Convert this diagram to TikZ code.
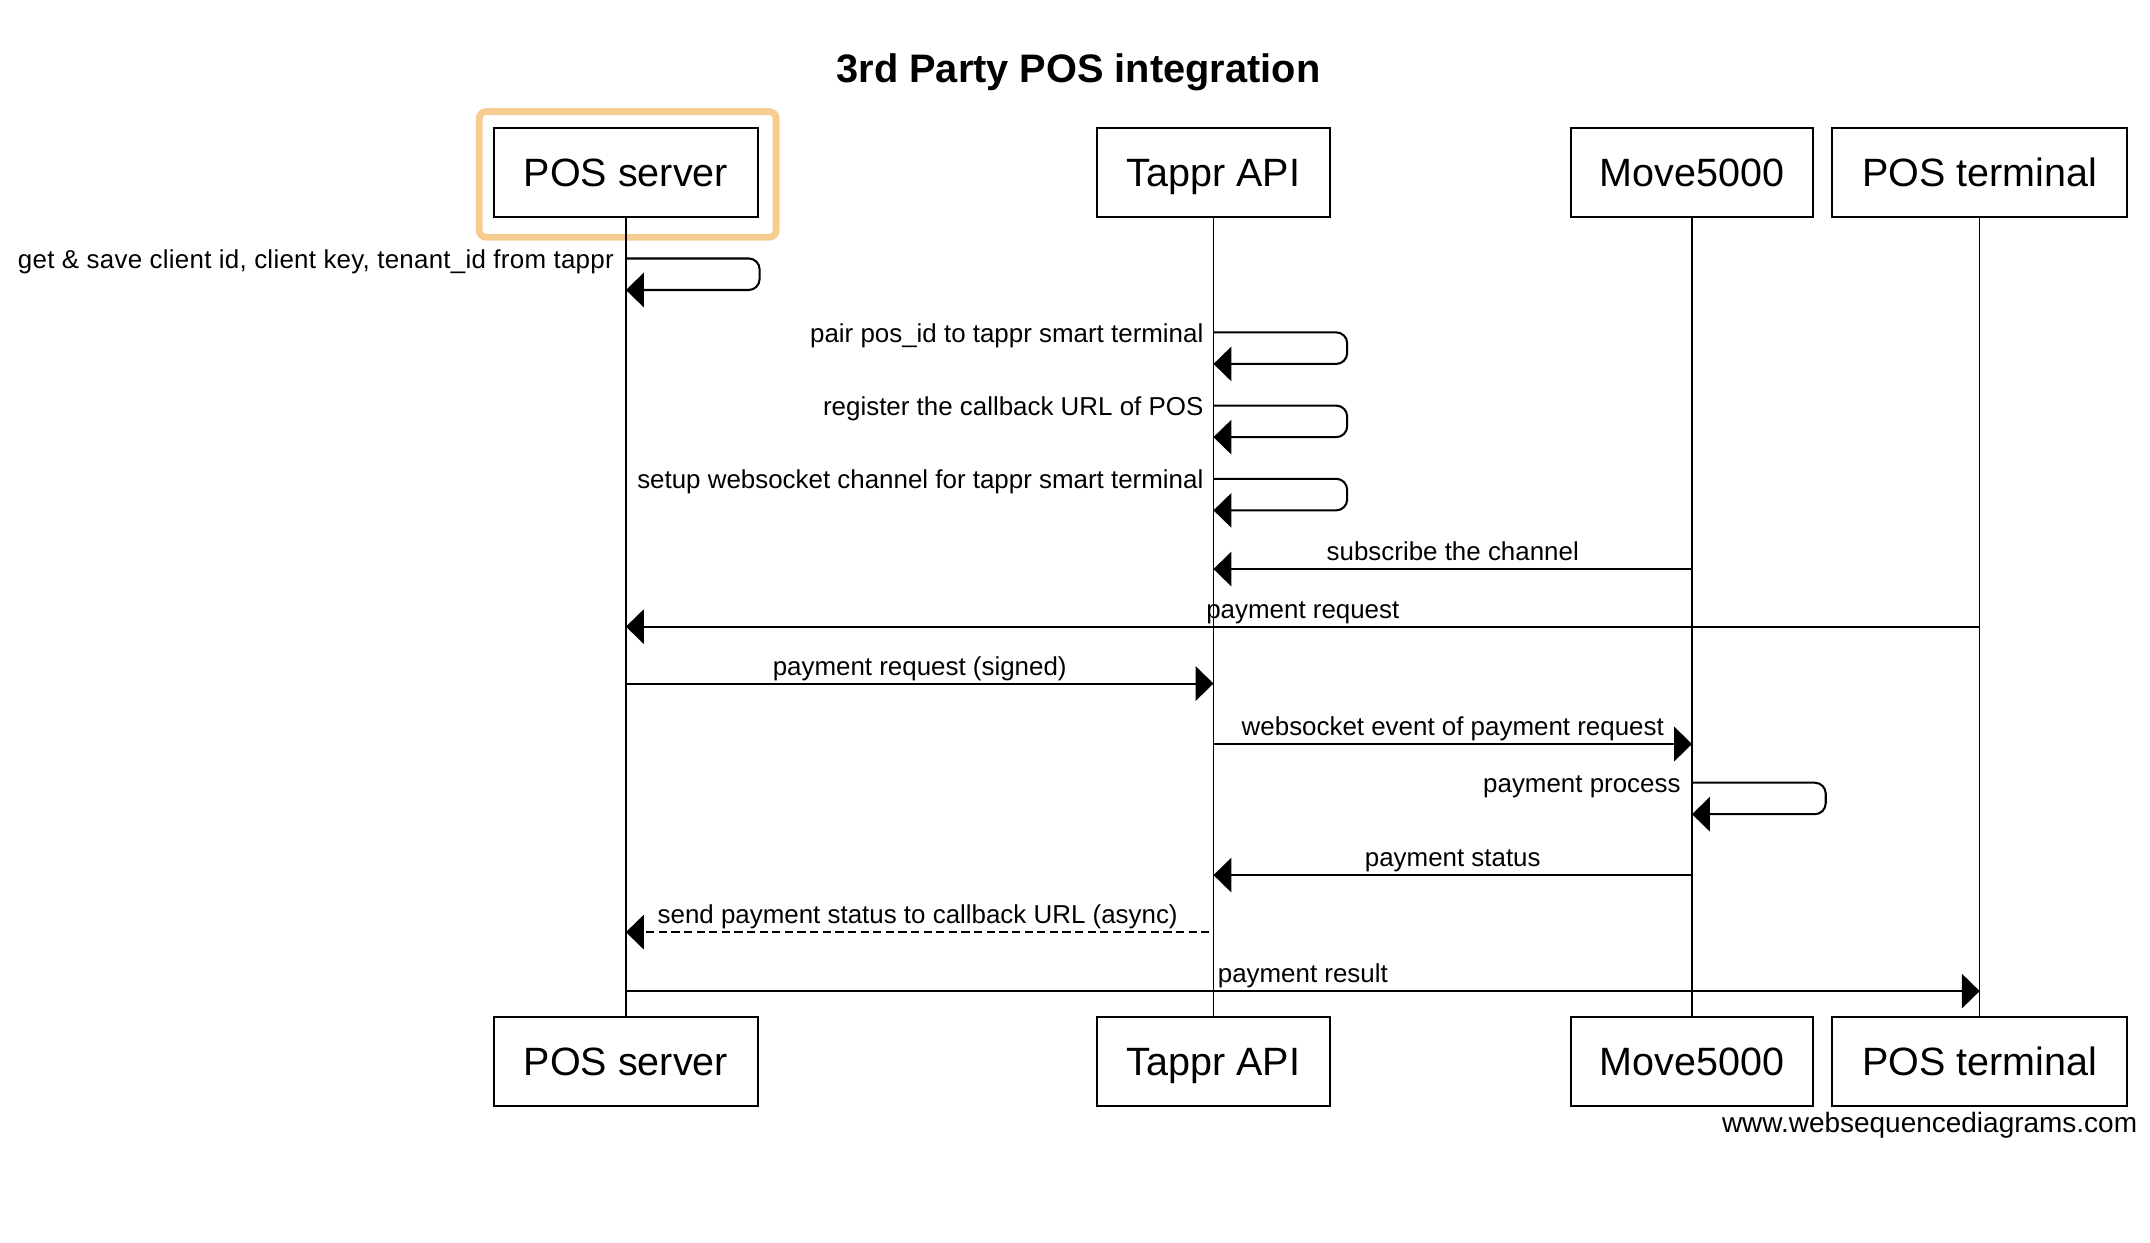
\documentclass[tikz,border=0pt]{standalone}
\usepackage{fontspec}
\setmainfont{Liberation Sans}
\usetikzlibrary{arrows.meta}
\definecolor{hl}{HTML}{F6CC90}
\begin{document}
\begin{tikzpicture}[x=0.5pt,y=-0.5pt,
  actor/.style={draw, line width=0.8pt, minimum height=32.5pt, inner sep=0pt,
    font=\fontsize{14.4pt}{16pt}\selectfont, text height=10.3pt, text depth=0pt},
  life/.style={line width=0.5pt},
  msg/.style={line width=0.75pt, -{Triangle[length=6.5pt,width=12.5pt]}},
  self/.style={msg, rounded corners=4pt},
  async/.style={msg, dash pattern=on 3pt off 1.6pt},
  lbl/.style={font=\fontsize{9.45pt}{11pt}\selectfont, inner sep=0pt},
  mlbl/.style={lbl, anchor=base, yshift=3pt},
  slbl/.style={lbl, anchor=base east}
]
\useasboundingbox (0,0) rectangle (1568,905.8);

% title
\node[anchor=base, font=\bfseries\fontsize{14.5pt}{17pt}\selectfont] (title) at (786.5,59.8) {3rd Party POS integration};

% highlight
\node[draw=hl, line width=2.5pt, rounded corners=2.5pt, minimum width=108.25pt, minimum height=45.8pt, inner sep=0pt] (hilite) at (457.75,127.2) {};

% actors top
\node[actor, minimum width=96.5pt]  (pst) at (456.5,126) {POS server};
\node[actor, minimum width=85.25pt] (tat) at (885,126) {Tappr API};
\node[actor, minimum width=88.25pt] (mvt) at (1234,126) {Move5000};
\node[actor, minimum width=107.5pt] (ptt) at (1443.8,126) {POS terminal};
% actors bottom
\node[actor, minimum width=96.5pt]  (psb) at (456.5,774.3) {POS server};
\node[actor, minimum width=85.25pt] (tab) at (885,774.3) {Tappr API};
\node[actor, minimum width=88.25pt] (mvb) at (1234,774.3) {Move5000};
\node[actor, minimum width=107.5pt] (ptb) at (1443.8,774.3) {POS terminal};

% lifelines
\draw[life] (pst.south) -- (psb.north);
\draw[life] (tat.south) -- (tab.north);
\draw[life] (mvt.south) -- (mvb.north);
\draw[life] (ptt.south) -- (ptb.north);

% rows
\coordinate (r1) at (0,188.5);
\coordinate (r1b) at (0,211.5);
\coordinate (r2) at (0,242.4);
\coordinate (r2b) at (0,265.4);
\coordinate (r3) at (0,295.8);
\coordinate (r3b) at (0,318.8);
\coordinate (r4) at (0,349.2);
\coordinate (r4b) at (0,372.2);
\coordinate (r5) at (0,415);
\coordinate (r6) at (0,457);
\coordinate (r7) at (0,498.5);
\coordinate (r8) at (0,542.6);
\coordinate (r9) at (0,570.8);
\coordinate (r9b) at (0,593.8);
\coordinate (r10) at (0,638.2);
\coordinate (r11) at (0,679.8);
\coordinate (r12) at (0,722.8);

% 1 self POS server
\draw[self] (pst |- r1) -- ++(97.5,0) -- ++(0,23) -- (pst |- r1b);
\path (pst |- r1) ++(-8.5,7.2) node[slbl, font=\fontsize{9.45pt}{11pt}\selectfont\addfontfeature{LetterSpace=1.0}] (l1) {get \& save client id, client key, tenant\_id from tappr};
% 2-4 self Tappr
\draw[self] (tat |- r2) -- ++(97.5,0) -- ++(0,23) -- (tat |- r2b);
\path (tat |- r2) ++(-7,7.2) node[slbl] (l2) {pair pos\_id to tappr smart terminal};
\draw[self] (tat |- r3) -- ++(97.5,0) -- ++(0,23) -- (tat |- r3b);
\path (tat |- r3) ++(-7,7.2) node[slbl] (l3) {register the callback URL of POS};
\draw[self] (tat |- r4) -- ++(97.5,0) -- ++(0,23) -- (tat |- r4b);
\path (tat |- r4) ++(-7,7.2) node[slbl] (l4) {setup websocket channel for tappr smart terminal};
% 5
\draw[msg] (mvt |- r5) -- node[mlbl] (l5) {subscribe the channel} (tat |- r5);
% 6
\draw[msg] (ptt |- r6) -- node[mlbl] (l6) {payment request} (pst |- r6);
% 7
\draw[msg] (pst |- r7) -- node[mlbl] (l7) {payment request (signed)} (tat |- r7);
% 8
\draw[msg] (tat |- r8) -- node[mlbl] (l8) {websocket event of payment request} (mvt |- r8);
% 9 self Move5000
\draw[self] (mvt |- r9) -- ++(97.5,0) -- ++(0,23) -- (mvt |- r9b);
\path (mvt |- r9) ++(-8,7.2) node[slbl] (l9) {payment process};
% 10
\draw[msg] (mvt |- r10) -- node[mlbl] (l10) {payment status} (tat |- r10);
% 11
\draw[async] ([xshift=-1.5pt]tat |- r11) -- node[mlbl] (l11) {send payment status to callback URL (async)} (pst |- r11);
% 12
\draw[msg] (pst |- r12) -- node[mlbl] (l12) {payment result} (ptt |- r12);

% watermark
\node[anchor=base east, inner sep=0pt, font=\fontsize{10.2pt}{12pt}\selectfont] (wm) at (1559,826) {www.websequencediagrams.com};
\end{tikzpicture}
\end{document}
